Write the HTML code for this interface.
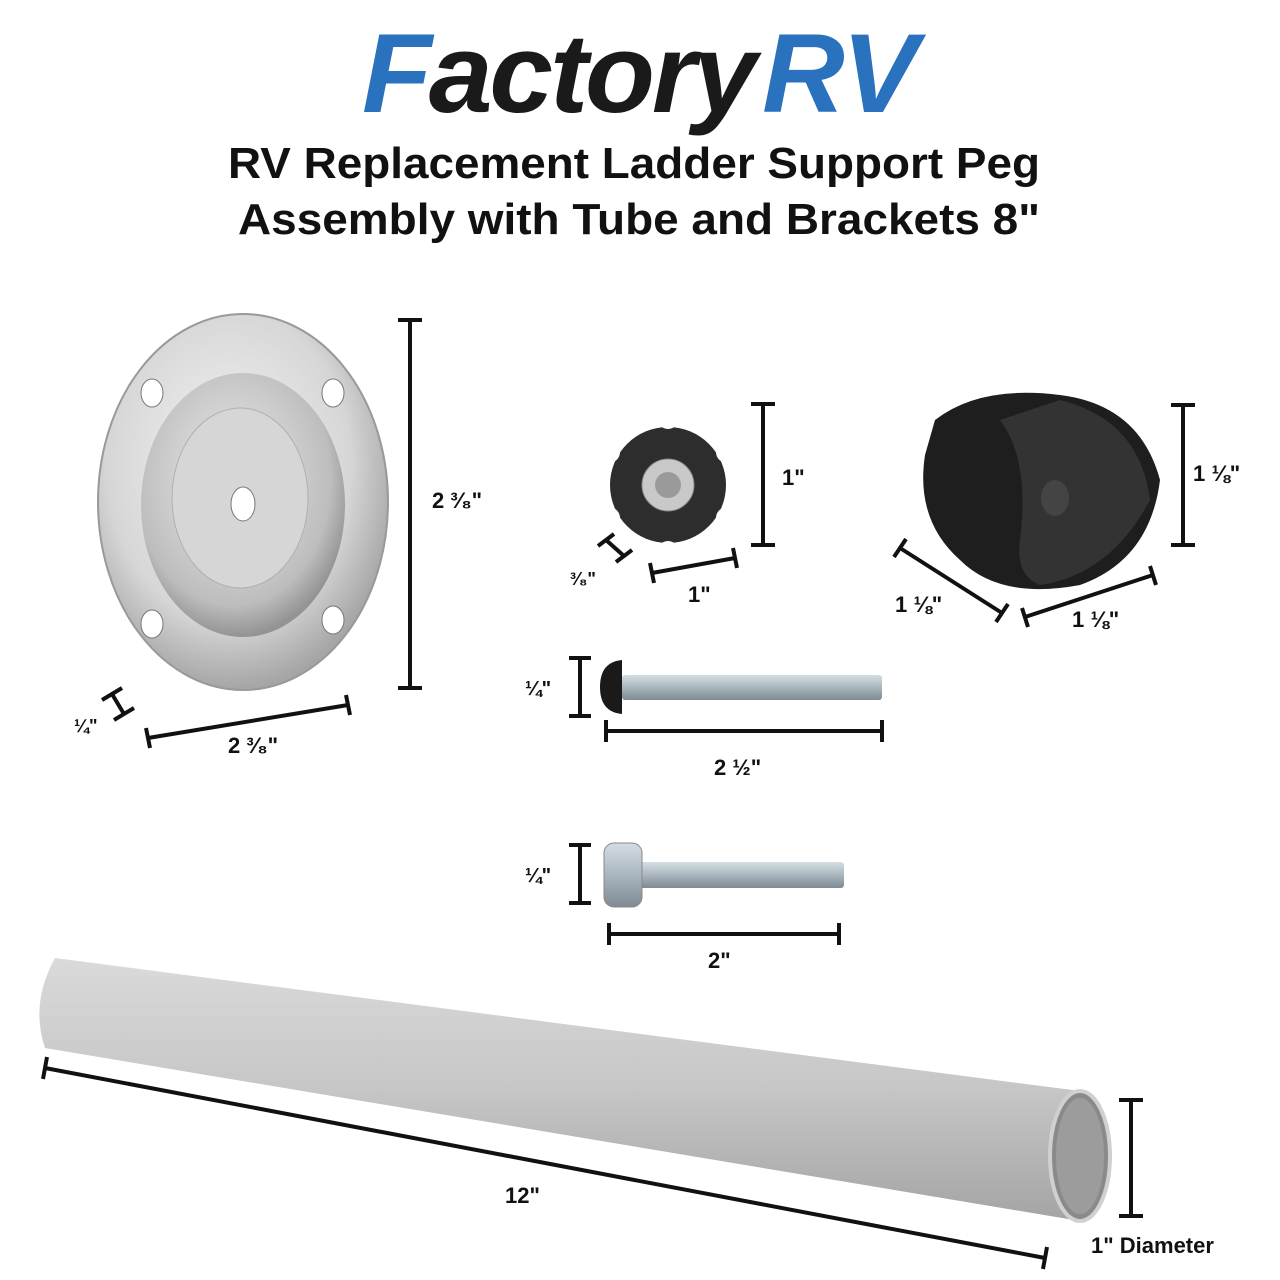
<!DOCTYPE html>
<html><head><meta charset="utf-8"><style>
html,body{margin:0;padding:0;background:#fff}
svg{display:block}
text{font-family:"Liberation Sans",Arial,sans-serif;font-weight:bold}
</style></head><body>
<svg width="1280" height="1280" viewBox="0 0 1280 1280" xmlns="http://www.w3.org/2000/svg">
<defs>
<radialGradient id="plate" cx="45%" cy="40%" r="60%"><stop offset="0" stop-color="#f4f4f4"/><stop offset="0.7" stop-color="#d6d6d6"/><stop offset="1" stop-color="#a5a5a5"/></radialGradient>
<radialGradient id="dish" cx="45%" cy="40%" r="60%"><stop offset="0" stop-color="#ececec"/><stop offset="0.8" stop-color="#bdbdbd"/><stop offset="1" stop-color="#939393"/></radialGradient>
<linearGradient id="tube" x1="0" y1="0" x2="0" y2="1"><stop offset="0" stop-color="#dadada"/><stop offset="0.5" stop-color="#c6c6c6"/><stop offset="1" stop-color="#a4a4a4"/></linearGradient>
<linearGradient id="bolt" x1="0" y1="0" x2="0" y2="1"><stop offset="0" stop-color="#d5dde3"/><stop offset="0.5" stop-color="#a9b6bf"/><stop offset="1" stop-color="#7f8a92"/></linearGradient>
</defs>
<text x="362" y="112" font-size="112" font-style="italic" font-weight="900" fill="#2a72bd" letter-spacing="-3" textLength="553" lengthAdjust="spacingAndGlyphs">F<tspan fill="#1a1a1a">actory</tspan><tspan fill="#2a72bd" dx="8">RV</tspan></text>
<text x="228" y="178" font-size="44" fill="#111" textLength="812" lengthAdjust="spacingAndGlyphs">RV Replacement Ladder Support Peg</text>
<text x="238" y="234" font-size="44" fill="#111" textLength="802" lengthAdjust="spacingAndGlyphs">Assembly with Tube and Brackets 8"</text>

<ellipse cx="243" cy="502" rx="145" ry="188" fill="url(#plate)" stroke="#999" stroke-width="2"/>
<ellipse cx="243" cy="505" rx="102" ry="132" fill="url(#dish)"/>
<ellipse cx="240" cy="498" rx="68" ry="90" fill="#d6d6d6" stroke="#b0b0b0"/>
<ellipse cx="243" cy="504" rx="12" ry="17" fill="#fff" stroke="#777"/>
<ellipse cx="152" cy="393" rx="11" ry="14" fill="#fff" stroke="#777"/>
<ellipse cx="333" cy="393" rx="11" ry="14" fill="#fff" stroke="#777"/>
<ellipse cx="152" cy="624" rx="11" ry="14" fill="#fff" stroke="#777"/>
<ellipse cx="333" cy="620" rx="11" ry="14" fill="#fff" stroke="#777"/>

<g stroke="#111" stroke-width="4" fill="none">
<line x1="410" y1="320" x2="410" y2="688"/><line x1="398" y1="320" x2="422" y2="320"/><line x1="398" y1="688" x2="422" y2="688"/>
<line x1="148" y1="738" x2="348" y2="705"/><line x1="146" y1="728" x2="150" y2="748"/><line x1="346" y1="695" x2="350" y2="715"/>
<line x1="112" y1="694" x2="124" y2="714"/><line x1="102" y1="700" x2="122" y2="688"/><line x1="114" y1="720" x2="134" y2="708"/>
<line x1="763" y1="404" x2="763" y2="545"/><line x1="751" y1="404" x2="775" y2="404"/><line x1="751" y1="545" x2="775" y2="545"/>
<line x1="652" y1="573" x2="735" y2="558"/><line x1="650" y1="563" x2="654" y2="583"/><line x1="733" y1="548" x2="737" y2="568"/>
<line x1="606" y1="540" x2="624" y2="556"/><line x1="598" y1="546" x2="614" y2="534"/><line x1="616" y1="562" x2="632" y2="550"/>
<line x1="1183" y1="405" x2="1183" y2="545"/><line x1="1171" y1="405" x2="1195" y2="405"/><line x1="1171" y1="545" x2="1195" y2="545"/>
<line x1="900" y1="548" x2="1002" y2="613"/><line x1="894" y1="557" x2="906" y2="539"/><line x1="996" y1="622" x2="1008" y2="604"/>
<line x1="1025" y1="617" x2="1153" y2="575"/><line x1="1022" y1="608" x2="1028" y2="627"/><line x1="1150" y1="566" x2="1156" y2="585"/>
<line x1="580" y1="658" x2="580" y2="716"/><line x1="569" y1="658" x2="591" y2="658"/><line x1="569" y1="716" x2="591" y2="716"/>
<line x1="606" y1="731" x2="882" y2="731"/><line x1="606" y1="720" x2="606" y2="742"/><line x1="882" y1="720" x2="882" y2="742"/>
<line x1="580" y1="845" x2="580" y2="903"/><line x1="569" y1="845" x2="591" y2="845"/><line x1="569" y1="903" x2="591" y2="903"/>
<line x1="609" y1="934" x2="839" y2="934"/><line x1="609" y1="923" x2="609" y2="945"/><line x1="839" y1="923" x2="839" y2="945"/>
</g>

<circle cx="668" cy="485" r="58" fill="#2d2d2d"/>
<g fill="#fff">
<circle cx="668" cy="418" r="11"/><circle cx="727" cy="452" r="11"/><circle cx="727" cy="518" r="11"/>
<circle cx="668" cy="552" r="11"/><circle cx="609" cy="518" r="11"/><circle cx="609" cy="452" r="11"/>
</g>
<circle cx="668" cy="485" r="26" fill="#c9c9c9" stroke="#888"/>
<circle cx="668" cy="485" r="13" fill="#9a9a9a"/>

<path d="M935 420 Q980 385 1060 395 Q1140 405 1160 480 Q1150 560 1080 585 Q1000 600 960 560 Q915 520 925 455 Z" fill="#1e1e1e"/>
<path d="M1000 420 Q1030 460 1020 540 Q1015 575 1040 585 Q1110 575 1150 500 Q1140 420 1060 400 Z" fill="#333"/>
<ellipse cx="1055" cy="498" rx="14" ry="18" fill="#444"/>

<rect x="622" y="675" width="260" height="25" rx="3" fill="url(#bolt)"/>
<path d="M622 660 Q600 662 600 687 Q600 712 622 714 Z" fill="#1a1a1a"/>
<rect x="640" y="862" width="204" height="26" rx="3" fill="url(#bolt)"/>
<rect x="604" y="843" width="38" height="64" rx="10" fill="url(#bolt)" stroke="#888"/>

<path d="M55 958 L1080 1091 L1080 1221 L45 1048 Q30 1003 55 958 Z" fill="url(#tube)"/>
<ellipse cx="1080" cy="1156" rx="30" ry="65" fill="#8a8a8a" stroke="#d0d0d0" stroke-width="4"/>
<ellipse cx="1080" cy="1156" rx="24" ry="58" fill="#9c9c9c"/>
<g stroke="#111" stroke-width="4" fill="none">
<line x1="45" y1="1068" x2="1045" y2="1258"/><line x1="47" y1="1057" x2="43" y2="1079"/><line x1="1047" y1="1247" x2="1043" y2="1269"/>
<line x1="1131" y1="1100" x2="1131" y2="1216"/><line x1="1119" y1="1100" x2="1143" y2="1100"/><line x1="1119" y1="1216" x2="1143" y2="1216"/>
</g>

<g font-size="22" fill="#111">
<text x="432" y="508">2 ³⁄₈"</text>
<text x="228" y="753">2 ³⁄₈"</text>
<text x="74" y="732" font-size="18">¼"</text>
<text x="782" y="485">1"</text>
<text x="688" y="602">1"</text>
<text x="570" y="585" font-size="18">³⁄₈"</text>
<text x="1193" y="481">1 ⅛"</text>
<text x="895" y="612">1 ⅛"</text>
<text x="1072" y="627">1 ⅛"</text>
<text x="525" y="695" font-size="20">¼"</text>
<text x="714" y="775">2 ½"</text>
<text x="525" y="882" font-size="20">¼"</text>
<text x="708" y="968">2"</text>
<text x="505" y="1203">12"</text>
<text x="1091" y="1253">1" Diameter</text>
</g>
</svg>
</body></html>
